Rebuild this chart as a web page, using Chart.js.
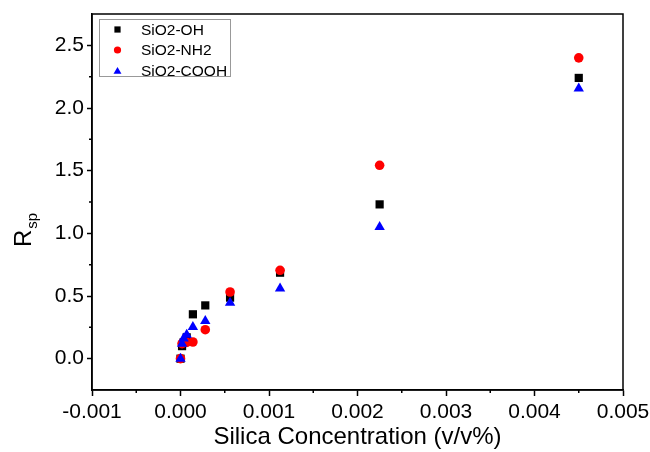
<!DOCTYPE html>
<html><head><meta charset="utf-8">
<script src="https://cdn.jsdelivr.net/npm/chart.js@4.4.1/dist/chart.umd.min.js"></script>
<style>html,body{margin:0;padding:0;background:#fff;}#wrap{width:650px;height:452px;}</style>
</head><body><div id="wrap"><canvas id="c" width="650" height="452"></canvas></div>
<script>
// ---- data ----
const concentrations = [0, 0.0000176, 0.000035, 0.00007, 0.00014, 0.00028, 0.00056, 0.001125, 0.00225, 0.0045];
const rspOH   = [0.00, 0.10, 0.13, 0.17, 0.354, 0.425, 0.487, 0.686, 1.231, 2.240];
const rspNH2  = [0.00, 0.12, 0.13, 0.13, 0.133, 0.231, 0.532, 0.705, 1.543, 2.400];
const rspCOOH = [0.00, 0.12, 0.16, 0.19, 0.252, 0.300, 0.447, 0.559, 1.050, 2.155];
const seriesNames = ['SiO2-OH', 'SiO2-NH2', 'SiO2-COOH'];
const xTicks = [-0.001, 0.000, 0.001, 0.002, 0.003, 0.004, 0.005];
const xMinorTicks = [-0.0005, 0.0005, 0.0015, 0.0025, 0.0035, 0.0045];
const yTicks = [0.0, 0.5, 1.0, 1.5, 2.0, 2.5];
const yMinorTicks = [0.25, 0.75, 1.25, 1.75, 2.25];
const xTitle = 'Silica Concentration (v/v%)';
const yTitleMain = 'R', yTitleSub = 'sp';

const FONT = '"Liberation Sans", Arial, sans-serif';
const pts = ys => concentrations.map((x, i) => ({x: x, y: ys[i]}));

const framePlugin = {
  id: 'frame',
  afterDraw(chart) {
    const ctx = chart.ctx, a = chart.chartArea;
    const xs = chart.scales.x, ys = chart.scales.y;
    ctx.save();
    ctx.strokeStyle = '#000';
    ctx.lineWidth = 1.5;
    ctx.strokeRect(a.left, a.top, a.right - a.left, a.bottom - a.top);
    // minor ticks
    ctx.beginPath();
    xMinorTicks.forEach(v => { const p = xs.getPixelForValue(v); ctx.moveTo(p, a.bottom); ctx.lineTo(p, a.bottom + 3); });
    yMinorTicks.forEach(v => { const p = ys.getPixelForValue(v); ctx.moveTo(a.left, p); ctx.lineTo(a.left - 3, p); });
    ctx.stroke();
    // y title with subscript
    ctx.fillStyle = '#000';
    ctx.translate(31, 247);
    ctx.rotate(-Math.PI / 2);
    ctx.textBaseline = 'alphabetic';
    ctx.textAlign = 'left';
    ctx.font = '24px ' + FONT;
    ctx.fillText(yTitleMain, 0, 0);
    const w = ctx.measureText(yTitleMain).width;
    ctx.font = '15px ' + FONT;
    ctx.fillText(yTitleSub, w + 1, 6);
    ctx.restore();
    // legend
    ctx.save();
    ctx.strokeStyle = '#999';
    ctx.lineWidth = 1;
    ctx.strokeRect(99.5, 19.5, 131, 57);
    ctx.font = '15.5px ' + FONT;
    ctx.textBaseline = 'middle';
    ctx.textAlign = 'left';
    chart.data.datasets.forEach((ds, i) => {
      const y = 29.5 + i * 20.5;
      ctx.fillStyle = ds.backgroundColor;
      ctx.strokeStyle = ds.borderColor;
      Chart.helpers.drawPoint(ctx, {pointStyle: ds.pointStyle, rotation: 0, radius: ds.pointStyle === 'triangle' ? 4.6 : (ds.pointStyle === 'rect' ? 4.4 : 3.6), borderWidth: 0}, 117.5, ds.pointStyle === 'triangle' ? y + 1 : y);
      ctx.fillStyle = '#000';
      ctx.fillText(ds.label, 141, y + 1);
    });
    ctx.restore();
  }
};

new Chart(document.getElementById('c'), {
  type: 'scatter',
  data: {
    datasets: [
      {label: seriesNames[0], data: pts(rspOH), pointStyle: 'rect', pointRadius: 5.8, pointHoverRadius: 5.8,
       backgroundColor: '#000000', borderColor: '#000000', borderWidth: 0, order: 3},
      {label: seriesNames[1], data: pts(rspNH2), pointStyle: 'circle', pointRadius: 4.8, pointHoverRadius: 4.8,
       backgroundColor: '#ff0000', borderColor: '#ff0000', borderWidth: 0, order: 2},
      {label: seriesNames[2], data: pts(rspCOOH), pointStyle: 'triangle', pointRadius: 6, pointHoverRadius: 6,
       backgroundColor: '#0000ff', borderColor: '#0000ff', borderWidth: 0, order: 1}
    ]
  },
  options: {
    responsive: false,
    animation: false,
    devicePixelRatio: 1,
    layout: {padding: {left: 0, top: 14, right: 27, bottom: 0}},
    plugins: {legend: {display: false}, tooltip: {enabled: false}},
    scales: {
      x: {
        type: 'linear', min: -0.001, max: 0.005,
        afterBuildTicks: s => { s.ticks = xTicks.map(v => ({value: v})); },
        afterFit: s => { s.height = 62; s.paddingLeft = 0; s.paddingRight = 0; },
        grid: {drawOnChartArea: false, drawTicks: true, tickLength: 6, tickColor: '#000', tickWidth: 1.5},
        border: {display: true, color: '#000', width: 1.5},
        ticks: {autoSkip: false, maxRotation: 0, padding: 4, color: '#000', font: {family: FONT, size: 21},
                callback: v => Number(v).toFixed(3)},
        title: {display: true, text: xTitle, color: '#000', font: {family: FONT, size: 24}, padding: {top: 0, bottom: 0}}
      },
      y: {
        type: 'linear', min: -0.25, max: 2.75,
        afterBuildTicks: s => { s.ticks = yTicks.map(v => ({value: v})); },
        afterFit: s => { s.width = 92; s.paddingTop = 0; s.paddingBottom = 0; },
        grid: {drawOnChartArea: false, drawTicks: true, tickLength: 5, tickColor: '#000', tickWidth: 1.5},
        border: {display: true, color: '#000', width: 1.5},
        ticks: {padding: 3, color: '#000', font: {family: FONT, size: 21},
                callback: v => Number(v).toFixed(1)}
      }
    }
  },
  plugins: [framePlugin]
});
</script></body></html>
